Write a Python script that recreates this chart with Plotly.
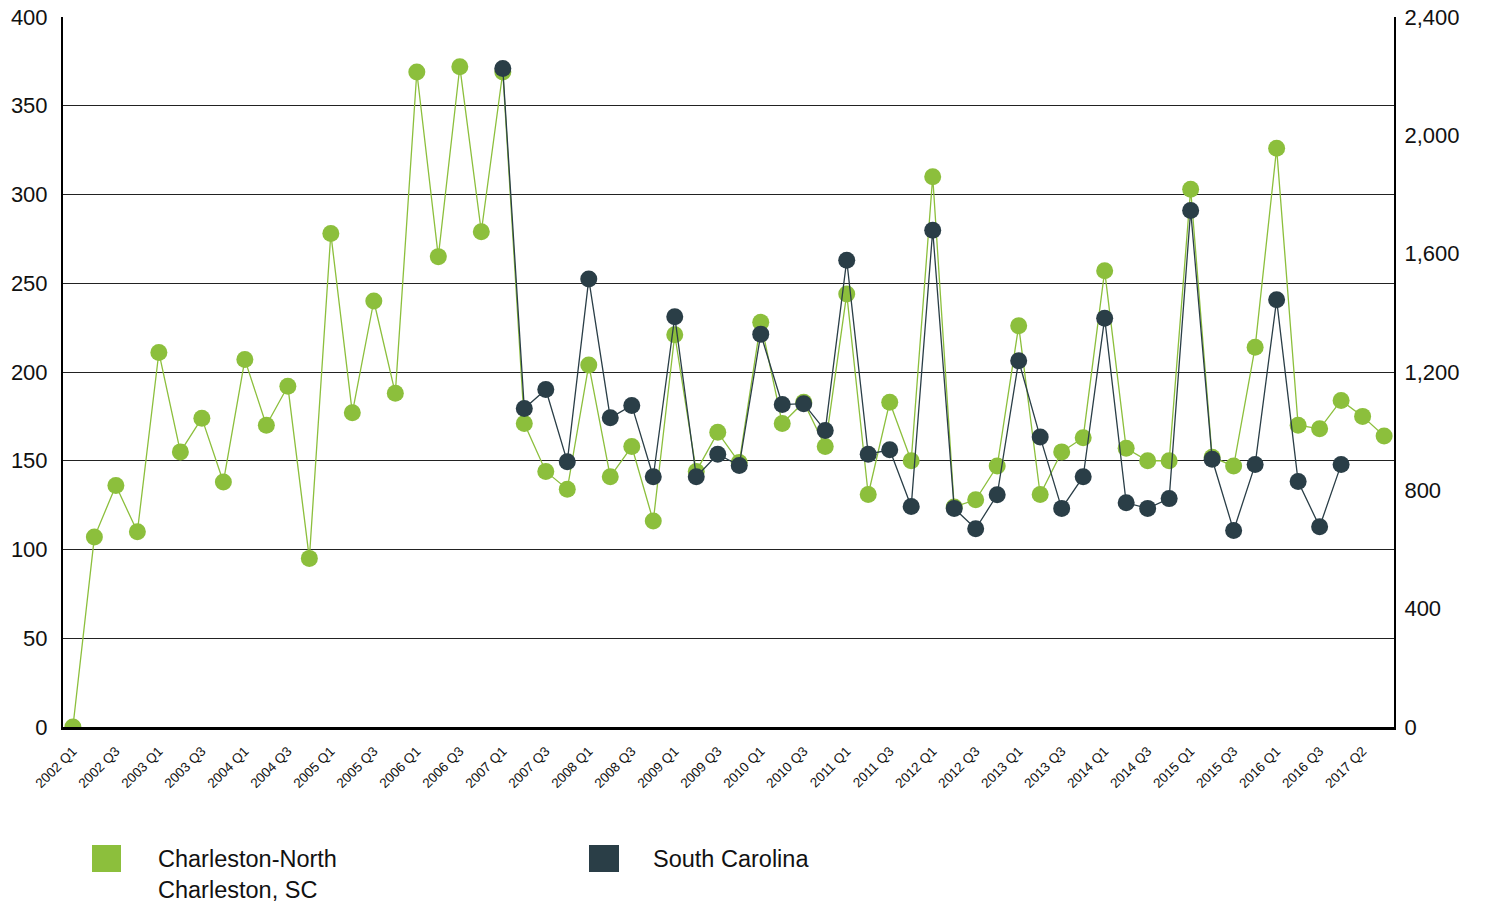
import plotly.graph_objects as go

# Quarter categories (the source chart's category list skips 2017 Q1)
years = list(range(2002, 2017))
quarters = [f"{y} Q{q}" for y in years for q in range(1, 5)] + ["2017 Q2", "2017 Q3"]
tick_labels = quarters[::2]

charleston = [0, 107, 136, 110, 211, 155, 174, 138, 207, 170,
              192, 95, 278, 177, 240, 188, 369, 265, 372, 279,
              369, 171, 144, 134, 204, 141, 158, 116, 221, 144,
              166, 149, 228, 171, 183, 158, 244, 131, 183, 150,
              310, 124, 128, 147, 226, 131, 155, 163, 257, 157,
              150, 150, 303, 152, 147, 214, 326, 170, 168, 184,
              175, 164]

south_carolina = [None] * 20 + [
    2226, 1077, 1141, 897, 1514, 1045, 1087, 846, 1387, 846,
    922, 884, 1328, 1090, 1093, 1002, 1578, 922, 937, 745,
    1679, 739, 670, 785, 1238, 980, 739, 846, 1382, 758,
    739, 772, 1746, 905, 664, 887, 1444, 830, 677, 887,
    None, None]

GREEN = "#8cbf3c"
DARK = "#2a3e47"
FONT = "Liberation Sans, Arial, sans-serif"

fig = go.Figure()
fig.add_trace(go.Scatter(
    x=quarters, y=charleston, mode="lines+markers", name="Charleston-North<br>Charleston, SC",
    line=dict(color=GREEN, width=1.3), marker=dict(color=GREEN, size=17),
    yaxis="y", showlegend=False, connectgaps=False))
fig.add_trace(go.Scatter(
    x=quarters, y=south_carolina, mode="lines+markers", name="South Carolina",
    line=dict(color=DARK, width=1.3), marker=dict(color=DARK, size=17),
    yaxis="y2", showlegend=False, connectgaps=False))

W, H = 1487, 907
L, R, T, B = 63, 1394, 17, 727
pw, ph = R - L, B - T

def px(x):
    return (x - L) / pw

def py(y):
    return (B - y) / ph

shapes = []
annotations = []
legend_items = [(92, 121, GREEN, 156, "Charleston-North<br>Charleston, SC"),
                (589, 619, DARK, 651, "South Carolina")]
for x0, x1, col, tx, label in legend_items:
    shapes.append(dict(type="rect", xref="paper", yref="paper",
                       x0=px(x0), x1=px(x1), y0=py(872), y1=py(845),
                       fillcolor=col, line=dict(width=0)))
    annotations.append(dict(xref="paper", yref="paper", x=px(tx), y=py(844),
                            xanchor="left", yanchor="top", align="left",
                            text=label, showarrow=False,
                            font=dict(family=FONT, size=23.5, color="#111")))

fig.update_layout(
    width=W, height=H,
    margin=dict(l=L, r=W - R, t=T, b=H - B, pad=0, autoexpand=False),
    paper_bgcolor="white", plot_bgcolor="white",
    font=dict(family=FONT, color="#111"),
    xaxis=dict(type="category", categoryorder="array", categoryarray=quarters,
               range=[-0.46, len(quarters) - 1 + 0.46], automargin=False,
               tickvals=tick_labels, ticktext=tick_labels, tickangle=-45,
               tickfont=dict(size=13.5, family=FONT, color="#111"),
               showgrid=False, showline=True, linecolor="black", linewidth=3,
               ticks="", zeroline=False, fixedrange=True, ticklabelstandoff=8),
    yaxis=dict(range=[0, 400], dtick=50, showgrid=True, gridcolor="#222", gridwidth=1,
               showline=True, linecolor="black", linewidth=2, zeroline=False,
               automargin=False,
               tickfont=dict(size=22, family=FONT, color="#111"),
               ticks="", ticklabelstandoff=9),
    yaxis2=dict(range=[0, 2400], dtick=400, overlaying="y", side="right",
                showgrid=False, showline=True, linecolor="black", linewidth=2,
                zeroline=False, tickformat=",", automargin=False,
                tickfont=dict(size=22, family=FONT, color="#111"),
                ticks="", ticklabelstandoff=4),
    shapes=shapes, annotations=annotations,
    showlegend=False,
)

fig.write_html("out.html", config={"displayModeBar": False},
               post_script="document.body.style.margin='0';document.body.style.padding='0';")
